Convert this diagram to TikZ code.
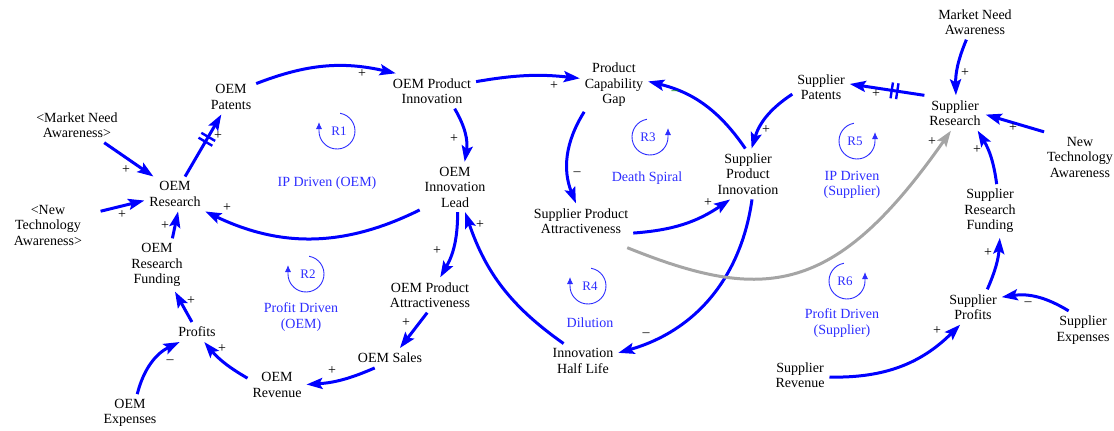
\documentclass[tikz,border=0pt]{standalone}
\usepackage{fontspec}
\setmainfont{Liberation Serif}
\usetikzlibrary{arrows.meta}
\definecolor{linkblue}{RGB}{0,0,255}
\definecolor{loopblue}{RGB}{45,45,255}
\definecolor{linkgray}{RGB}{165,165,165}
\definecolor{polgreen}{RGB}{0,140,0}
\newcommand\diagfont{\fontsize{14pt}{15.5pt}\selectfont}
\newcommand\loopfont{\fontsize{13pt}{15pt}\selectfont}
\begin{document}
\begin{tikzpicture}[x=1pt,y=1pt,
  var/.style={font=\diagfont, align=center, inner sep=1pt, outer sep=4pt},
  link/.style={draw=linkblue, line width=3pt, -{Stealth[length=16pt,width=11pt,inset=3pt]}},
  graylink/.style={link, draw=linkgray},
  pol/.style={font=\diagfont, inner sep=0pt},
  loopname/.style={font=\diagfont, text=loopblue, align=center, inner sep=0pt},
  loopline/.style={draw=loopblue, line width=0.9pt, -{Latex[length=7pt,width=6pt]}},
  delay/.pic={\draw[-, draw=linkblue, line width=2.4pt] (-2.8,-8) -- (-2.8,8) (2.8,-8) -- (2.8,8);},
  loopleft/.pic={\draw[loopline] (80:18) arc[start angle=80,end angle=-180,radius=18] -- ++(0,9);
    \node[font=\loopfont, text=loopblue, inner sep=0pt] at (2,0) {\tikzpictext};},
  loopright/.pic={\draw[loopline] (100:18) arc[start angle=100,end angle=360,radius=18] -- ++(0,9);
    \node[font=\loopfont, text=loopblue, inner sep=0pt] at (-2,0) {\tikzpictext};}
]
\useasboundingbox (0,0) rectangle (1114,-431);

% ---- variables ----
\node[var] (mnaO)     at (77,-125)  {<Market Need\\Awareness>};
\node[var] (ntaO)     at (48,-225)  {<New\\Technology\\Awareness>};
\node[var] (oemres)   at (175,-194) {OEM\\Research};
\node[var] (oempat)   at (231,-97)  {OEM\\Patents};
\node[var] (oemfund)  at (157,-265) {OEM\\Research\\Funding};
\node[var] (profits)  at (197,-332) {Profits};
\node[var] (oemexp)   at (130,-413) {OEM\\Expenses};
\node[var] (oemrev)   at (277,-385) {OEM\\Revenue};
\node[var] (oemsales) at (390,-358) {OEM Sales};
\node[var] (oemattr)  at (430,-295) {OEM Product\\Attractiveness};
\node[var] (oemlead)  at (455,-187) {OEM\\Innovation\\Lead};
\node[var] (oeminno)  at (432,-91)  {OEM Product\\Innovation};
\node[var] (gap)      at (614,-85)  {Product\\Capability\\Gap};
\node[var] (supattr)  at (581,-221) {Supplier Product\\Attractiveness};
\node[var] (supinno)  at (748,-174) {Supplier\\Product\\Innovation};
\node[var] (halflife) at (583,-361) {Innovation\\Half Life};
\node[var] (suppat)   at (821,-87)  {Supplier\\Patents};
\node[var] (mna)      at (975,-22)  {Market Need\\Awareness};
\node[var] (supres)   at (955,-113) {Supplier\\Research};
\node[var] (nta)      at (1080,-157){New\\Technology\\Awareness};
\node[var] (supfund)  at (990,-211) {Supplier\\Research\\Funding};
\node[var] (supprof)  at (973,-307) {Supplier\\Profits};
\node[var] (supexp)   at (1083,-330){Supplier\\Expenses};
\node[var] (suprev)   at (800,-375) {Supplier\\Revenue};

% ---- causal links ----
\draw[link] (mnaO.-33) -- (oemres.141);
\draw[link, shorten <=14pt] (ntaO.15) -- (oemres.192);
\draw[link] (oemres.60) -- (oempat.241) pic[pos=0.6, sloped]{delay};
\draw[link] (oemfund.60) -- (oemres.-80);
\draw[link] (oemlead.213) to[bend left=26] (oemres.-30);
\draw[link] (oempat.28) to[bend left=17] (oeminno.154);
\draw[link] (oeminno.-38) to[bend left=20] (oemlead.69);
\draw[link] (oeminno.12) to[bend left=8] (gap.169);
\draw[link] (oemlead.-84) to[bend left=15] (oemattr.60);
\draw[link] (halflife.138) to[bend left=18] (oemlead.-68);
\draw[link] (oemattr.-99) -- (oemsales.45);
\draw[link] (oemsales.213) to[bend left=10] (oemrev.1);
\draw[link] (oemrev.167) to[bend left=10] (profits.-54);
\draw[link] (oemexp.69) to[bend left=25] (profits.210);
\draw[link] (profits.117) -- (oemfund.-56);
\draw[link] (gap.222) to[bend right=27] (supattr.106);
\draw[link] (supinno.96) to[bend right=21] (gap.6);
\draw[link] (supattr.-13) to[bend right=15] (supinno.235);
\draw[link] (suppat.194) to[bend right=20] (supinno.82);
\draw[link] (supinno.-81) to[bend left=33] (halflife.13);
\draw[graylink] ([shift={(-6,-9)}]supattr.south east)
  to[out=-22,in=235,out looseness=1.1,in looseness=1.5] (supres.257);
\draw[link] (supres.150) -- (suppat.6) pic[pos=0.4, sloped]{delay};
\draw[link] (mna.244) to[bend right=12] (supres.87);
\draw[link] (nta.145) -- (supres.-3);
\draw[link] (supfund.76) to[bend right=12] (supres.-38);
\draw[link] (supprof.51) to[bend right=10] (supfund.-70);
\draw[link] (supexp.127) to[bend right=20] (supprof.19);
\draw[link] (suprev.-4) to[bend right=23] (supprof.234);

% ---- link polarities ----
\node[pol] (p1)  at (126,-170) {+};
\node[pol] (p2)  at (122,-215) {+};
\node[pol] (p3)  at (218,-136) {+};
\node[pol] (p4)  at (165,-226) {+};
\node[pol] (p5)  at (227,-208) {+};
\node[pol] (p6)  at (362,-74)  {+};
\node[pol] (p7)  at (454,-139) {+};
\node[pol] (p8)  at (554,-86)  {+};
\node[pol] (p9)  at (437,-251) {+};
\node[pol] (p10) at (480,-225) {+};
\node[pol] (p11) at (406,-323) {+};
\node[pol] (p12) at (332,-371) {+};
\node[pol] (p13) at (222,-349) {+};
\node[pol] (p14) at (170,-362) {–};
\node[pol] (p15) at (191,-301) {+};
\node[pol] (p16) at (577,-174) {–};
\node[pol, text=polgreen] (p17) at (675,-93) {–};
\node[pol] (p18) at (708,-203) {+};
\node[pol] (p19) at (766,-130) {+};
\node[pol] (p20) at (646,-335) {–};
\node[pol] (p21) at (932,-142) {+};
\node[pol] (p22) at (876,-94)  {+};
\node[pol] (p23) at (965,-73)  {+};
\node[pol] (p24) at (1013,-128){+};
\node[pol] (p25) at (977,-150) {+};
\node[pol] (p26) at (988,-253) {+};
\node[pol] (p27) at (1028,-304){–};
\node[pol] (p28) at (937,-331) {+};

% ---- feedback loops ----
\pic[pic text=R1] at (337,-131) {loopleft};
\pic[pic text=R2] at (306,-274) {loopleft};
\pic[pic text=R3] at (650,-137) {loopright};
\pic[pic text=R4] at (588,-286) {loopleft};
\pic[pic text=R5] at (857,-141) {loopright};
\pic[pic text=R6] at (847,-281) {loopright};

\node[loopname] (ipoem)    at (327,-183) {IP Driven (OEM)};
\node[loopname] (profoem)  at (301,-317) {Profit Driven\\(OEM)};
\node[loopname] (death)    at (647,-178) {Death Spiral};
\node[loopname] (dilution) at (590,-323) {Dilution};
\node[loopname] (ipsup)    at (852,-185) {IP Driven\\(Supplier)};
\node[loopname] (profsup)  at (842,-323) {Profit Driven\\(Supplier)};
\end{tikzpicture}
\end{document}
